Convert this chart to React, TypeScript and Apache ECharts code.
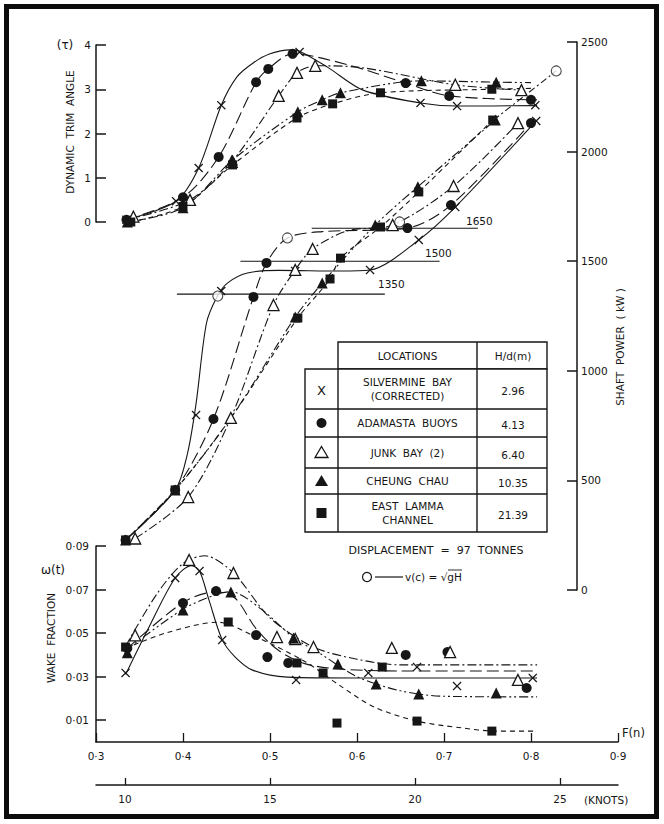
import React, { useEffect, useRef } from "react";
import * as echarts from "echarts";

type P = [number, number];

// ---- axes / ticks ----
const FROUDE_TICKS = [0.3, 0.4, 0.5, 0.6, 0.7, 0.8, 0.9];
const KNOT_TICKS = [10, 15, 20, 25];
const WAKE_TICKS = [0.01, 0.03, 0.05, 0.07, 0.09];
const TRIM_RANGE = [0, 4];
const POWER_RANGE = [0, 2500];

// ---- legend table ----
const LOCATION_LINES = [
  ["SILVERMINE  BAY", "(CORRECTED)"],
  ["ADAMASTA  BUOYS"],
  ["JUNK  BAY  (2)"],
  ["CHEUNG  CHAU"],
  ["EAST  LAMMA", "CHANNEL"],
];
const DEPTHS = ["2.96", "4.13", "6.40", "10.35", "21.39"];

// ---- constant power reference lines ----
const POWER_LEVELS = [1350, 1500, 1650];
const POWER_LEVEL_SPANS: P[] = [[0.393, 0.632], [0.466, 0.695], [0.548, 0.739]];

// ---- dynamic trim angle: measured points ----
const trimSilvermine: P[] = [[0.335, 0.05], [0.392, 0.47], [0.418, 1.22], [0.444, 2.64], [0.534, 3.84], [0.673, 2.69], [0.715, 2.62], [0.805, 2.64]];
const trimAdamasta: P[] = [[0.335, 0.05], [0.4, 0.56], [0.441, 1.47], [0.484, 3.16], [0.498, 3.46], [0.526, 3.8], [0.656, 3.14], [0.706, 2.85], [0.8, 2.76]];
const trimJunkBay: P[] = [[0.343, 0.12], [0.408, 0.5], [0.456, 1.36], [0.51, 2.85], [0.531, 3.37], [0.552, 3.53], [0.713, 3.1], [0.789, 2.98]];
const trimCheungChau: P[] = [[0.336, 0.0], [0.4, 0.32], [0.457, 1.4], [0.532, 2.49], [0.56, 2.76], [0.581, 2.92], [0.674, 3.19], [0.76, 3.16]];
const trimEastLamma: P[] = [[0.34, 0.0], [0.4, 0.35], [0.457, 1.29], [0.531, 2.35], [0.572, 2.67], [0.627, 2.92], [0.755, 3.0]];

// ---- dynamic trim angle: drawn curves ----
const trimCurveSilvermine: P[] = [[0.335, 0.05], [0.392, 0.47], [0.418, 1.22], [0.444, 2.64], [0.462, 3.28], [0.481, 3.6], [0.5, 3.8], [0.523, 3.89], [0.534, 3.86], [0.566, 3.5], [0.607, 2.98], [0.673, 2.69], [0.715, 2.62], [0.807, 2.63]];
const trimCurveAdamasta: P[] = [[0.335, 0.05], [0.4, 0.56], [0.441, 1.47], [0.484, 3.16], [0.498, 3.46], [0.526, 3.8], [0.59, 3.55], [0.656, 3.14], [0.706, 2.85], [0.807, 2.76]];
const trimCurveJunkBay: P[] = [[0.335, 0.05], [0.408, 0.5], [0.456, 1.36], [0.51, 2.85], [0.531, 3.37], [0.552, 3.53], [0.6, 3.5], [0.713, 3.1], [0.789, 2.98]];
const trimCurveCheungChau: P[] = [[0.336, 0.0], [0.4, 0.32], [0.457, 1.4], [0.532, 2.49], [0.56, 2.76], [0.581, 2.92], [0.674, 3.19], [0.76, 3.16], [0.8, 3.15]];
const trimCurveEastLamma: P[] = [[0.34, 0.0], [0.4, 0.35], [0.457, 1.29], [0.531, 2.35], [0.572, 2.67], [0.627, 2.92], [0.755, 3.0], [0.8, 3.02]];

// ---- shaft power (kW): measured points ----
const powerSilvermine: P[] = [[0.334, 228], [0.391, 456], [0.415, 798], [0.444, 1364], [0.529, 1455], [0.615, 1460], [0.671, 1597], [0.713, 1747], [0.806, 2140]];
const powerAdamasta: P[] = [[0.334, 228], [0.391, 456], [0.435, 780], [0.481, 1337], [0.496, 1492], [0.658, 1651], [0.708, 1756], [0.8, 2130]];
const powerJunkBay: P[] = [[0.345, 235], [0.406, 424], [0.455, 785], [0.504, 1300], [0.529, 1460], [0.549, 1556], [0.641, 1665], [0.711, 1843], [0.785, 2130]];
const powerCheungChau: P[] = [[0.334, 228], [0.391, 456], [0.529, 1245], [0.56, 1400], [0.621, 1665], [0.67, 1840], [0.759, 2144]];
const powerEastLamma: P[] = [[0.334, 228], [0.391, 456], [0.532, 1241], [0.569, 1419], [0.581, 1514], [0.627, 1656], [0.671, 1816], [0.756, 2144]];
// critical speed v(c) = sqrt(gH)
const powerCritical: P[] = [[0.44, 1341], [0.52, 1606], [0.649, 1679], [0.829, 2368]];

// ---- shaft power: drawn curves ----
const powerCurveSilvermine: P[] = [[0.334, 228], [0.391, 456], [0.405, 620], [0.415, 850], [0.427, 1218], [0.439, 1337], [0.451, 1400], [0.474, 1446], [0.51, 1458], [0.58, 1455], [0.615, 1460], [0.671, 1597], [0.713, 1747], [0.806, 2140]];
const powerCurveAdamasta: P[] = [[0.334, 228], [0.391, 456], [0.435, 780], [0.481, 1337], [0.496, 1492], [0.52, 1606], [0.56, 1635], [0.658, 1651], [0.708, 1756], [0.8, 2130]];
const powerCurveJunkBay: P[] = [[0.345, 235], [0.406, 424], [0.455, 785], [0.504, 1300], [0.529, 1460], [0.549, 1556], [0.59, 1640], [0.641, 1665], [0.711, 1843], [0.785, 2130]];
const powerCurveCheungChau: P[] = [[0.334, 228], [0.391, 456], [0.455, 785], [0.529, 1245], [0.56, 1400], [0.621, 1665], [0.67, 1840], [0.759, 2144]];
const powerCurveEastLamma: P[] = [[0.334, 228], [0.391, 456], [0.455, 785], [0.532, 1241], [0.569, 1419], [0.581, 1514], [0.627, 1656], [0.671, 1816], [0.756, 2144]];
const powerCurveCritical: P[] = [[0.757, 2144], [0.829, 2368]];

// ---- wake fraction: measured points ----
const wakeSilvermine: P[] = [[0.334, 0.0317], [0.391, 0.0753], [0.419, 0.0785], [0.445, 0.0468], [0.53, 0.0285], [0.613, 0.0317], [0.669, 0.0344], [0.715, 0.0257], [0.802, 0.0294]];
const wakeAdamasta: P[] = [[0.336, 0.043], [0.4, 0.0638], [0.438, 0.0693], [0.484, 0.0491], [0.497, 0.039], [0.521, 0.0363], [0.656, 0.04], [0.704, 0.0413], [0.795, 0.0248]];
const wakeJunkBay: P[] = [[0.345, 0.049], [0.407, 0.0836], [0.458, 0.0776], [0.508, 0.0482], [0.529, 0.0473], [0.55, 0.0436], [0.64, 0.0432], [0.707, 0.0413], [0.785, 0.0285]];
const wakeCheungChau: P[] = [[0.336, 0.041], [0.4, 0.0606], [0.455, 0.0689], [0.527, 0.0477], [0.578, 0.0358], [0.622, 0.0266], [0.671, 0.022], [0.76, 0.0225]];
const wakeEastLamma: P[] = [[0.334, 0.0436], [0.452, 0.0551], [0.531, 0.0363], [0.561, 0.0317], [0.577, 0.0087], [0.629, 0.0344], [0.669, 0.0096], [0.755, 0.005]];

// ---- wake fraction: faired curves ----
const wakeCurveSilvermine: P[] = [[0.334, 0.031], [0.36, 0.052], [0.391, 0.0753], [0.41, 0.081], [0.419, 0.0785], [0.43, 0.065], [0.445, 0.047], [0.46, 0.039], [0.48, 0.033], [0.52, 0.0298], [0.6, 0.0294], [0.807, 0.0294]];
const wakeCurveAdamasta: P[] = [[0.336, 0.043], [0.4, 0.064], [0.438, 0.069], [0.46, 0.066], [0.484, 0.052], [0.51, 0.042], [0.54, 0.036], [0.58, 0.0335], [0.65, 0.0326], [0.807, 0.0326]];
const wakeCurveJunkBay: P[] = [[0.334, 0.044], [0.37, 0.068], [0.4, 0.082], [0.425, 0.0855], [0.458, 0.0776], [0.5, 0.057], [0.55, 0.0436], [0.6, 0.038], [0.65, 0.0354], [0.807, 0.0354]];
const wakeCurveCheungChau: P[] = [[0.334, 0.042], [0.4, 0.061], [0.44, 0.068], [0.455, 0.069], [0.49, 0.061], [0.527, 0.048], [0.56, 0.04], [0.6, 0.03], [0.65, 0.0235], [0.7, 0.021], [0.807, 0.0207]];
const wakeCurveEastLamma: P[] = [[0.334, 0.043], [0.38, 0.05], [0.44, 0.055], [0.48, 0.049], [0.54, 0.037], [0.58, 0.026], [0.62, 0.016], [0.67, 0.0095], [0.72, 0.0065], [0.76, 0.005], [0.807, 0.005]];

const INK = "#161616";
const FONT = "DejaVu Sans";
const FS = 10.5;
const X_PATH = "path://M1,0 L5,4 L9,0 L10,1 L6,5 L10,9 L9,10 L5,6 L1,10 L0,9 L4,5 L0,1 Z";

const STYLES = [
  { symbol: X_PATH, size: 9, fill: INK, dash: "solid" as any },
  { symbol: "circle", size: 10, fill: INK, dash: [12, 5] },
  { symbol: "triangle", size: 11, fill: "#ffffff", dash: [9, 3, 2, 3] },
  { symbol: "triangle", size: 11, fill: INK, dash: [9, 3, 2, 3, 2, 3] },
  { symbol: "rect", size: 9, fill: INK, dash: [5, 4] },
];

const fmtDot = (v: number, d: number) => v.toFixed(d).replace(".", "·");

function curveSeries(data: P[], xi: number, yi: number, dash: any) {
  return {
    type: "line",
    xAxisIndex: xi,
    yAxisIndex: yi,
    data,
    symbol: "none",
    showSymbol: false,
    smooth: 0.3,
    silent: true,
    z: 2,
    lineStyle: { color: INK, width: 1.1, type: dash },
  };
}

function markerSeries(data: P[], xi: number, yi: number, s: any) {
  return {
    type: "scatter",
    xAxisIndex: xi,
    yAxisIndex: yi,
    data,
    symbol: s.symbol,
    symbolSize: s.size,
    silent: true,
    z: 4,
    itemStyle: { color: s.fill, borderColor: INK, borderWidth: s.fill === "#ffffff" ? 1.3 : 0, opacity: 1 },
  };
}

function txt(x: number, y: number, text: string, size = FS, align = "center", rotation = 0, extra: any = {}) {
  return {
    type: "text",
    x,
    y,
    rotation,
    z: 10,
    silent: true,
    style: {
      text,
      fill: INK,
      fontSize: size,
      fontFamily: FONT,
      align,
      verticalAlign: "middle",
      textAlign: align,
      textVerticalAlign: "middle",
      ...extra,
    },
  };
}

function ln(x1: number, y1: number, x2: number, y2: number, w = 1.4) {
  return { type: "line", silent: true, z: 10, shape: { x1, y1, x2, y2 }, style: { stroke: INK, lineWidth: w } };
}

function buildGraphic() {
  const g: any[] = [];
  // frame
  g.push({ type: "rect", silent: true, z: 1, shape: { x: 6.5, y: 6.5, width: 650, height: 810 }, style: { fill: "none", stroke: "#0c0c0c", lineWidth: 5 } });

  // axis titles
  g.push(txt(65, 45, "(τ)", 12));
  g.push(txt(70, 132, "DYNAMIC  TRIM  ANGLE", FS, "center", Math.PI / 2));
  g.push(txt(620, 347, "SHAFT  POWER  ( kW )", FS, "center", Math.PI / 2));
  g.push(txt(51, 638, "WAKE  FRACTION", FS, "center", Math.PI / 2));
  g.push(txt(53, 570, "ω(t)", 12));
  g.push(txt(622, 733, "F(n)", 11.5, "left"));
  g.push(txt(584, 800, "(KNOTS)", FS, "left"));

  // power level labels
  g.push(txt(378, 284, String(POWER_LEVELS[0]), FS, "left"));
  g.push(txt(425, 253, String(POWER_LEVELS[1]), FS, "left"));
  g.push(txt(466, 221, String(POWER_LEVELS[2]), FS, "left"));

  // table
  const xL = 305, xS = 338, xD = 477, xR = 547;
  const yTop = 342, yHead = 369;
  const rows = [369, 409, 437, 468, 494, 532];
  g.push({ type: "rect", silent: true, z: 9, shape: { x: xS, y: yTop, width: xR - xS, height: yHead - yTop }, style: { fill: "#fff", stroke: INK, lineWidth: 1.4 } });
  g.push({ type: "rect", silent: true, z: 9, shape: { x: xL, y: yHead, width: xR - xL, height: rows[5] - yHead }, style: { fill: "#fff", stroke: INK, lineWidth: 1.4 } });
  g.push(ln(xS, yHead, xS, rows[5]));
  g.push(ln(xD, yTop, xD, rows[5]));
  for (let i = 1; i < 5; i++) g.push(ln(xL, rows[i], xR, rows[i]));
  g.push(txt((xS + xD) / 2, 356, "LOCATIONS", FS));
  g.push(txt((xD + xR) / 2 + 1, 356, "H/d(m)", FS));
  for (let i = 0; i < 5; i++) {
    const cy = (rows[i] + rows[i + 1]) / 2;
    const lines = LOCATION_LINES[i];
    if (lines.length === 1) g.push(txt((xS + xD) / 2, cy, lines[0], FS));
    else {
      g.push(txt((xS + xD) / 2, cy - 7, lines[0], FS));
      g.push(txt((xS + xD) / 2, cy + 7, lines[1], FS));
    }
    g.push(txt((xD + xR) / 2 + 1, cy + 2, DEPTHS[i], FS));
    const sx = (xL + xS) / 2;
    if (i === 0) g.push(txt(sx, cy + 1, "X", 13));
    if (i === 1) g.push({ type: "circle", silent: true, z: 10, shape: { cx: sx, cy, r: 5 }, style: { fill: INK } });
    if (i === 2) g.push({ type: "polygon", silent: true, z: 10, shape: { points: [[sx, cy - 6], [sx + 6.5, cy + 5], [sx - 6.5, cy + 5]] }, style: { fill: "#fff", stroke: INK, lineWidth: 1.3 } });
    if (i === 3) g.push({ type: "polygon", silent: true, z: 10, shape: { points: [[sx, cy - 6], [sx + 6.5, cy + 5], [sx - 6.5, cy + 5]] }, style: { fill: INK } });
    if (i === 4) g.push({ type: "rect", silent: true, z: 10, shape: { x: sx - 5, y: cy - 5, width: 10, height: 10 }, style: { fill: INK } });
  }
  g.push(txt(436, 550, "DISPLACEMENT  =  97  TONNES", 11));
  g.push({ type: "circle", silent: true, z: 10, shape: { cx: 367, cy: 577, r: 4.5 }, style: { fill: "#fff", stroke: INK, lineWidth: 1.2 } });
  g.push(ln(375, 577, 403, 577, 1.2));
  g.push(txt(405, 577, "v(c) = √gH", FS, "left"));
  g.push(ln(448, 570, 462, 570, 0.9));
  return g;
}

function buildOption() {
  const gridLeft = 96;
  const gridRight = 664 - 618;
  const axisLine = { show: true, onZero: false, lineStyle: { color: INK, width: 1.5 } };
  const label = { color: INK, fontSize: FS, fontFamily: FONT };

  const trimSets = [trimSilvermine, trimAdamasta, trimJunkBay, trimCheungChau, trimEastLamma];
  const trimCurves = [trimCurveSilvermine, trimCurveAdamasta, trimCurveJunkBay, trimCurveCheungChau, trimCurveEastLamma];
  const powerSets = [powerSilvermine, powerAdamasta, powerJunkBay, powerCheungChau, powerEastLamma];
  const powerCurves = [powerCurveSilvermine, powerCurveAdamasta, powerCurveJunkBay, powerCurveCheungChau, powerCurveEastLamma];
  const wakeSets = [wakeSilvermine, wakeAdamasta, wakeJunkBay, wakeCheungChau, wakeEastLamma];
  const wakeCurves = [wakeCurveSilvermine, wakeCurveAdamasta, wakeCurveJunkBay, wakeCurveCheungChau, wakeCurveEastLamma];

  const series: any[] = [];
  for (let i = 0; i < 5; i++) {
    series.push(curveSeries(trimCurves[i], 0, 0, STYLES[i].dash));
    series.push(curveSeries(powerCurves[i], 1, 1, STYLES[i].dash));
    series.push(curveSeries(wakeCurves[i], 2, 2, STYLES[i].dash));
  }
  POWER_LEVELS.forEach((p, i) => {
    series.push({
      type: "line", xAxisIndex: 1, yAxisIndex: 1, symbol: "none", silent: true, z: 2,
      data: [[POWER_LEVEL_SPANS[i][0], p], [POWER_LEVEL_SPANS[i][1], p]],
      lineStyle: { color: INK, width: 1.1 },
    });
  });
  series.push(curveSeries(powerCurveCritical, 1, 1, [7, 3, 2, 3]));
  for (let i = 0; i < 5; i++) {
    series.push(markerSeries(trimSets[i], 0, 0, STYLES[i]));
    series.push(markerSeries(powerSets[i], 1, 1, STYLES[i]));
    series.push(markerSeries(wakeSets[i], 2, 2, STYLES[i]));
  }
  series.push({
    type: "scatter", xAxisIndex: 1, yAxisIndex: 1, data: powerCritical, symbol: "circle", symbolSize: 10, silent: true, z: 5,
    itemStyle: { color: "#fff", borderColor: INK, borderWidth: 1.1 },
  });

  return {
    animation: false,
    backgroundColor: "#ffffff",
    grid: [
      { left: gridLeft, right: gridRight, top: 45, height: 177 },
      { left: gridLeft, right: gridRight, top: 42, height: 548 },
      { left: gridLeft, right: gridRight, top: 546, height: 196 },
    ],
    xAxis: [
      { type: "value", gridIndex: 0, min: 0.3, max: 0.9, show: false },
      { type: "value", gridIndex: 1, min: 0.3, max: 0.9, show: false },
      {
        type: "value", gridIndex: 2, min: 0.3, max: 0.9, position: "bottom",
        axisLine, splitLine: { show: false },
        axisTick: { show: true, inside: true, length: 9, customValues: FROUDE_TICKS, lineStyle: { color: INK, width: 1.3 } },
        axisLabel: { ...label, margin: 8, customValues: FROUDE_TICKS, formatter: (v: number) => fmtDot(v, 1) },
      },
      {
        type: "value", gridIndex: 2, min: 9, max: 27, position: "bottom", offset: 43,
        axisLine, splitLine: { show: false },
        axisTick: { show: true, inside: true, length: 7, customValues: KNOT_TICKS, lineStyle: { color: INK, width: 1.3 } },
        axisLabel: { ...label, margin: 8, customValues: KNOT_TICKS },
      },
    ],
    yAxis: [
      {
        type: "value", gridIndex: 0, min: TRIM_RANGE[0], max: TRIM_RANGE[1], interval: 1, position: "left",
        axisLine, splitLine: { show: false },
        axisTick: { show: true, inside: true, length: 10, lineStyle: { color: INK, width: 1.5 } },
        axisLabel: { ...label, margin: 5 },
      },
      {
        type: "value", gridIndex: 1, min: POWER_RANGE[0], max: POWER_RANGE[1], interval: 500, position: "right", offset: -41,
        axisLine, splitLine: { show: false },
        axisTick: { show: true, inside: true, length: 10, lineStyle: { color: INK, width: 1.5 } },
        axisLabel: { ...label, margin: 4, formatter: (v: number) => String(v) },
      },
      {
        type: "value", gridIndex: 2, min: 0, max: 0.09, position: "left",
        axisLine, splitLine: { show: false },
        axisTick: { show: true, inside: true, length: 10, customValues: WAKE_TICKS, lineStyle: { color: INK, width: 1.5 } },
        axisLabel: { ...label, margin: 7, customValues: WAKE_TICKS, formatter: (v: number) => fmtDot(v, 2) },
      },
    ],
    graphic: buildGraphic(),
    series,
  };
}

export default function App() {
  const ref = useRef<HTMLDivElement>(null);
  useEffect(() => {
    if (!ref.current) return;
    const chart = echarts.init(ref.current, undefined, { renderer: "svg" });
    chart.setOption(buildOption() as any);
    return () => chart.dispose();
  }, []);
  return <div ref={ref} style={{ position: "absolute", left: 0, top: 0, width: 664, height: 824, background: "#fff" }} />;
}
